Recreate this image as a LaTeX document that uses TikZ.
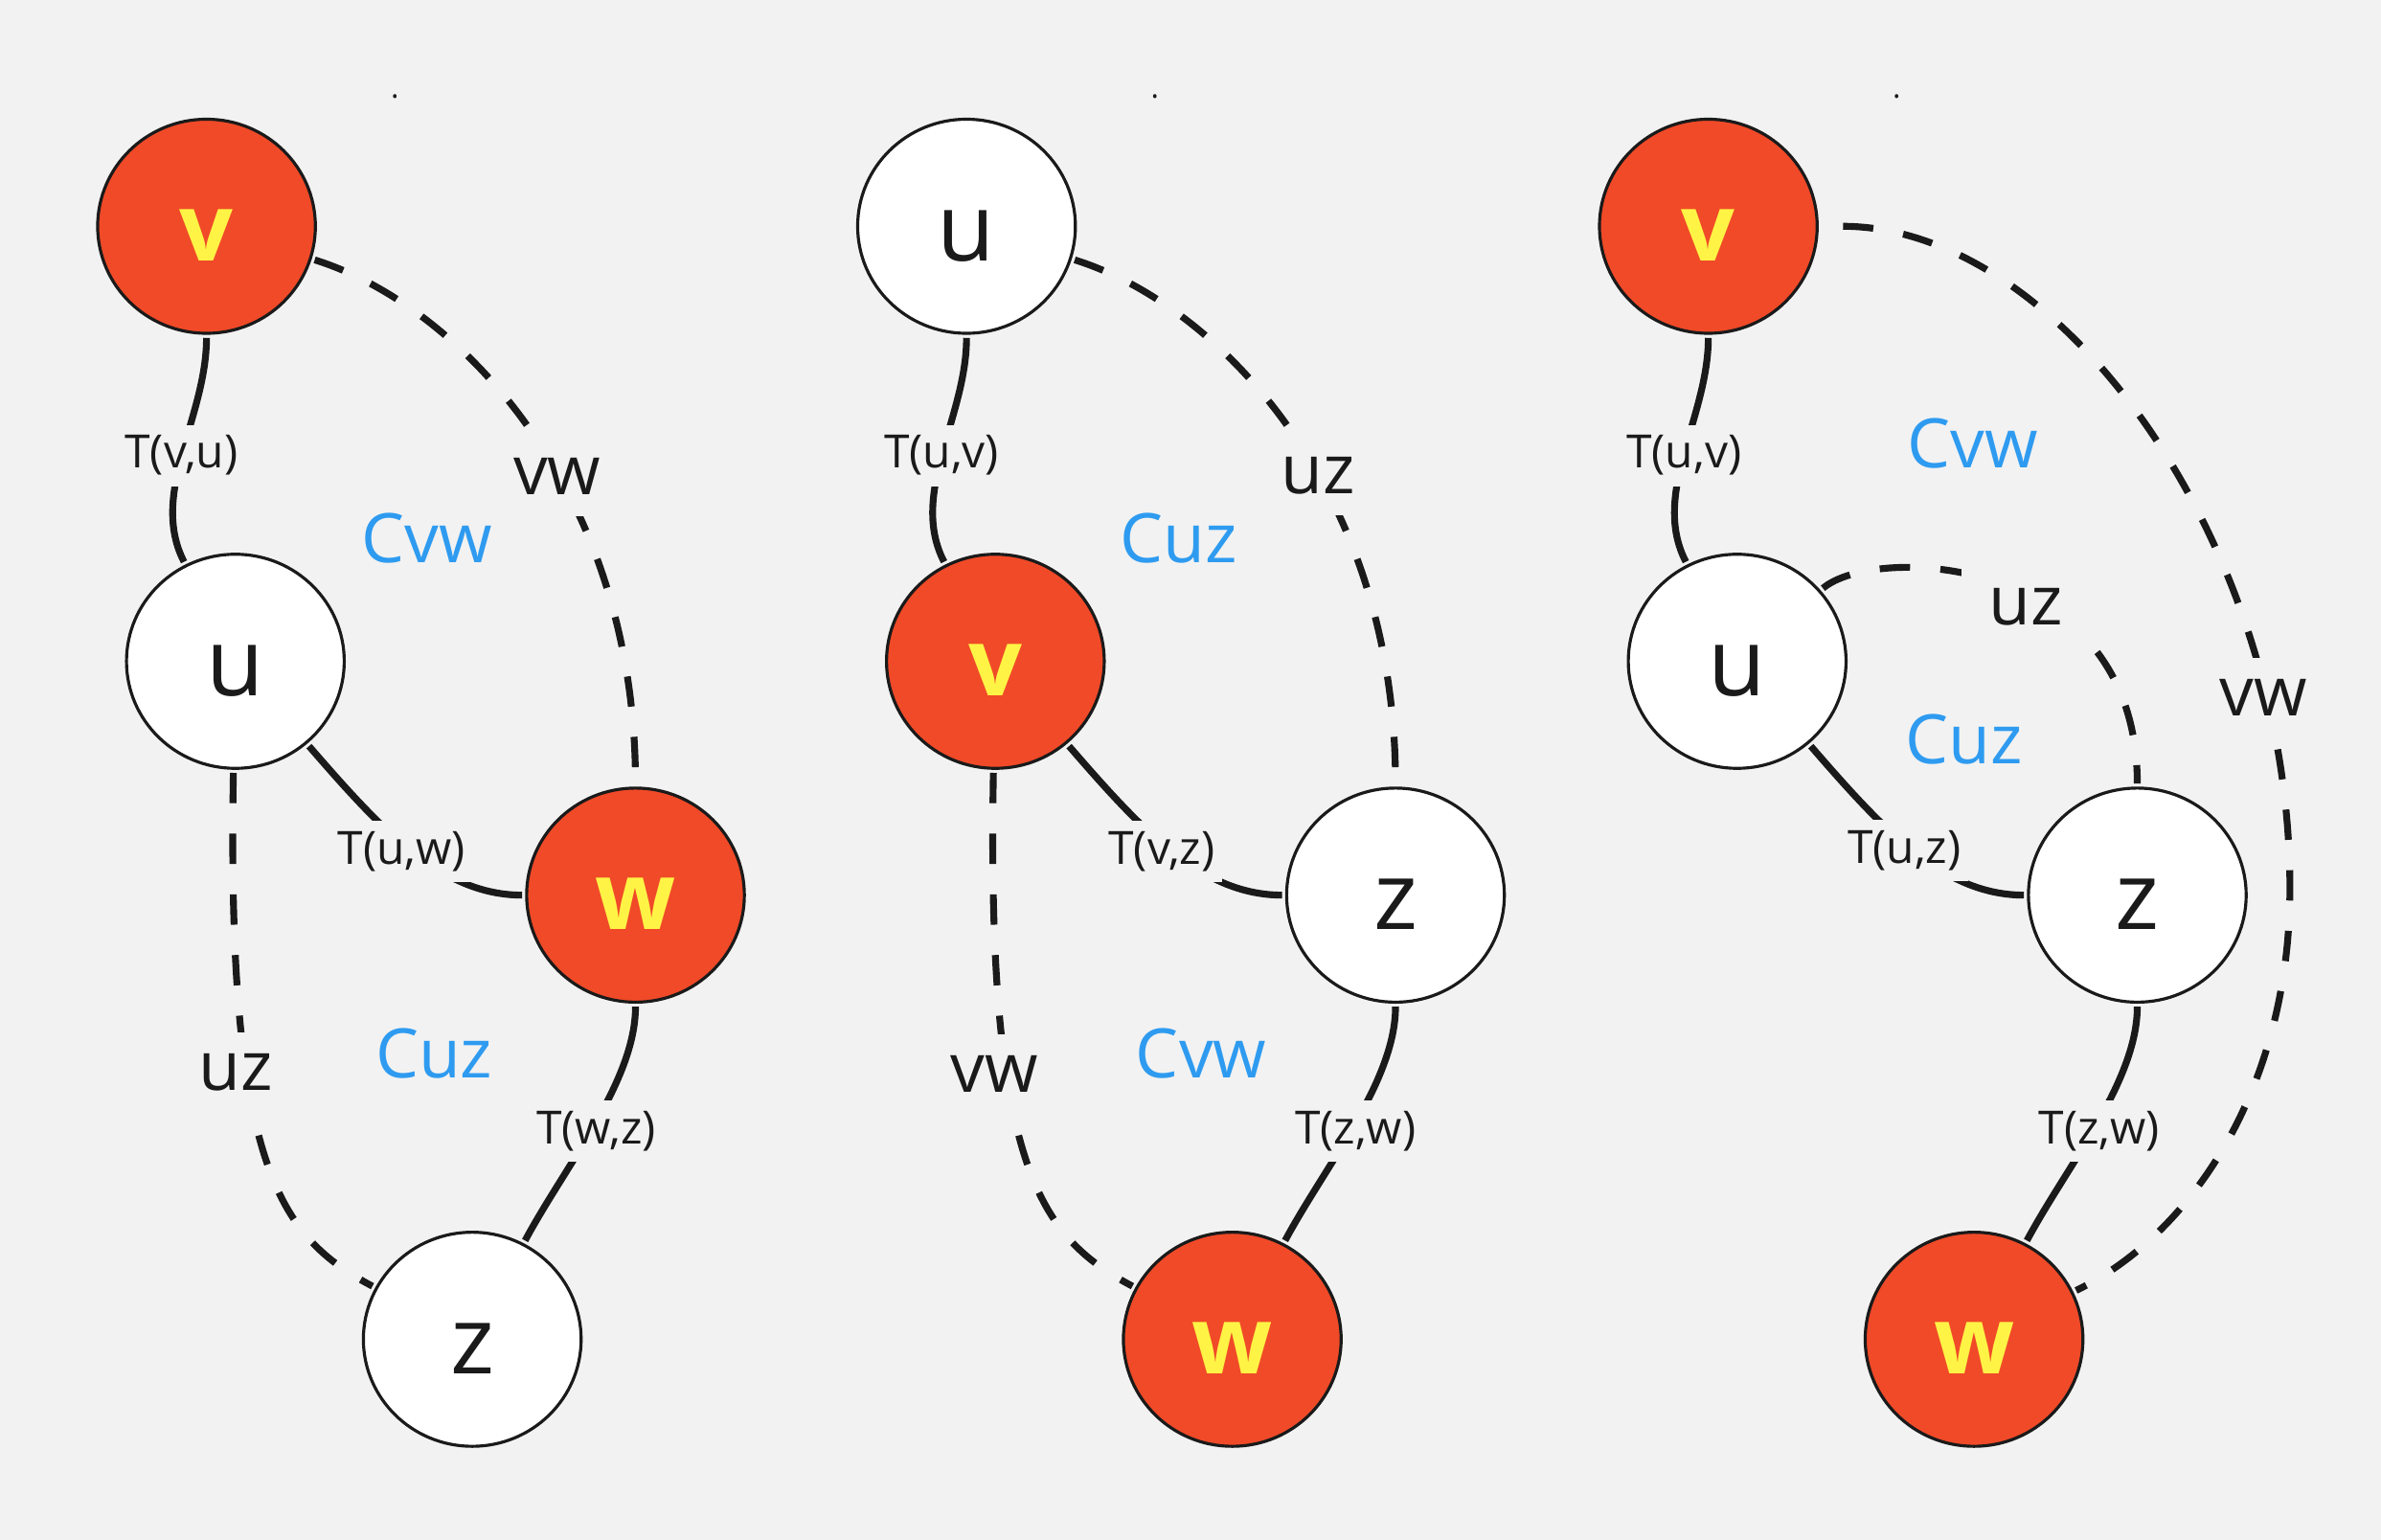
\documentclass[tikz,border=0pt]{standalone}
\usepackage{fontspec}
\setmainfont{Open Sans}
\usetikzlibrary{shapes.geometric}
\definecolor{bgc}{HTML}{F2F2F2}
\definecolor{redc}{HTML}{F04A28}
\definecolor{yelc}{HTML}{FFF445}
\definecolor{bluec}{HTML}{2E9BF0}
\definecolor{inkc}{HTML}{1A1A1A}
\begin{document}
\begin{tikzpicture}[x=0.5pt,y=-0.5pt,
  vert/.style={ellipse, draw=inkc, line width=1pt, minimum width=71.7pt, minimum height=70.5pt,
    inner sep=0pt, outer sep=1.5pt, text height=22.6pt, text depth=0pt},
  redv/.style={vert, fill=redc, text=yelc, font=\fontsize{31}{31}\selectfont\bfseries},
  whitev/.style={vert, fill=white, text=inkc, font=\fontsize{31}{31}\selectfont},
  tree/.style={draw=inkc, line width=2.25pt},
  nontree/.style={draw=inkc, line width=2.25pt, dash pattern=on 10pt off 10pt},
  tlab/.style={fill=bgc, inner xsep=2.5pt, inner ysep=3.5pt, text=inkc, font=\fontsize{15.1}{18}\selectfont},
  elab/.style={fill=bgc, inner xsep=3pt, inner ysep=7pt, text=inkc, font=\fontsize{22.5}{27}\selectfont},
  clab/.style={inner sep=0pt, text=bluec, font=\fontsize{22.5}{27}\selectfont},
  dotlab/.style={inner sep=0pt, text=inkc, font=\fontsize{10}{12}\selectfont},
]
\fill[bgc] (0,0) rectangle (1568,1014);
\useasboundingbox (0,0) rectangle (1568,1014);

% ---------------- panel 1 ----------------
\begin{scope}
\node[dotlab] (d1) at (260,63.5) {.};
\node[redv] (v1) at (136,149) {v};
\node[whitev] (u1) at (155,435.5) {u};
\node[redv] (w1) at (418.5,589.5) {w};
\node[whitev] (z1) at (311,882) {z};
\draw[tree] (v1) .. controls (136,275) and (98,325) .. (u1);
\draw[nontree] (v1) .. controls (300,200) and (418.5,320) .. (w1);
\draw[tree] (u1) .. controls (250,545) and (290,589.5) .. (w1);
\draw[nontree] (u1) .. controls (149,770) and (185,815) .. (z1);
\draw[tree] (w1) .. controls (418.5,712) and (372,768) .. (z1);
\node[tlab] (l1a) at (119.5,300) {T(v,u)};
\node[elab] (l1b) at (367,313.7) {vw};
\node[clab] (l1c) at (281,354.7) {Cvw};
\node[tlab] (l1d) at (264.6,561) {T(u,w)};
\node[elab] (l1e) at (155.4,706) {uz};
\node[clab] (l1f) at (285.8,693.5) {Cuz};
\node[tlab] (l1g) at (392.6,745) {T(w,z)};
\end{scope}

% ---------------- panel 2 ----------------
\begin{scope}[xshift=250.25pt]
\node[dotlab] (d2) at (260,63.5) {.};
\node[whitev] (u2) at (136,149) {u};
\node[redv] (v2) at (155,435.5) {v};
\node[whitev] (z2) at (418.5,589.5) {z};
\node[redv] (w2) at (311,882) {w};
\draw[tree] (u2) .. controls (136,275) and (98,325) .. (v2);
\draw[nontree] (u2) .. controls (300,200) and (418.5,320) .. (z2);
\draw[tree] (v2) .. controls (250,545) and (290,589.5) .. (z2);
\draw[nontree] (v2) .. controls (149,770) and (185,815) .. (w2);
\draw[tree] (z2) .. controls (418.5,712) and (372,768) .. (w2);
\node[tlab] (l2a) at (119.5,300) {T(u,v)};
\node[elab] (l2b) at (367.5,313) {uz};
\node[clab] (l2c) at (275.5,354.5) {Cuz};
\node[tlab] (l2d) at (264.5,561) {T(v,z)};
\node[elab] (l2e) at (154.5,707) {vw};
\node[clab] (l2f) at (290.5,693.5) {Cvw};
\node[tlab] (l2g) at (392.1,745) {T(z,w)};
\end{scope}

% ---------------- panel 3 ----------------
\begin{scope}[xshift=494.5pt]
\node[dotlab] (d3) at (260,63.5) {.};
\node[redv] (v3) at (136,149) {v};
\node[whitev] (u3) at (155,435.5) {u};
\node[whitev] (z3) at (418.5,589.5) {z};
\node[redv] (w3) at (311,882) {w};
\coordinate (m3) at (519,585);
\draw[tree] (v3) .. controls (136,275) and (98,325) .. (u3);
\draw[nontree] (u3) .. controls (246,358) and (418.5,365) .. (z3);
\draw[nontree] ([xshift=7pt]v3.east) .. controls (370,149.5) and (519,360) .. (m3)
   .. controls (519,720) and (451,815) .. (w3);
\draw[tree] (u3) .. controls (250,545) and (290,589.5) .. (z3);
\draw[tree] (z3) .. controls (418.5,712) and (372,768) .. (w3);
\node[tlab] (l3a) at (120,300) {T(u,v)};
\node[clab] (l3b) at (310,292) {Cvw};
\node[elab, inner xsep=9pt] (l3c) at (345,400) {uz};
\node[clab] (l3d) at (304.5,487) {Cuz};
\node[elab] (l3e) at (501.5,459.4) {vw};
\node[tlab] (l3f) at (265,560) {T(u,z)};
\node[tlab] (l3g) at (393.5,745) {T(z,w)};
\end{scope}
\end{tikzpicture}
\end{document}
